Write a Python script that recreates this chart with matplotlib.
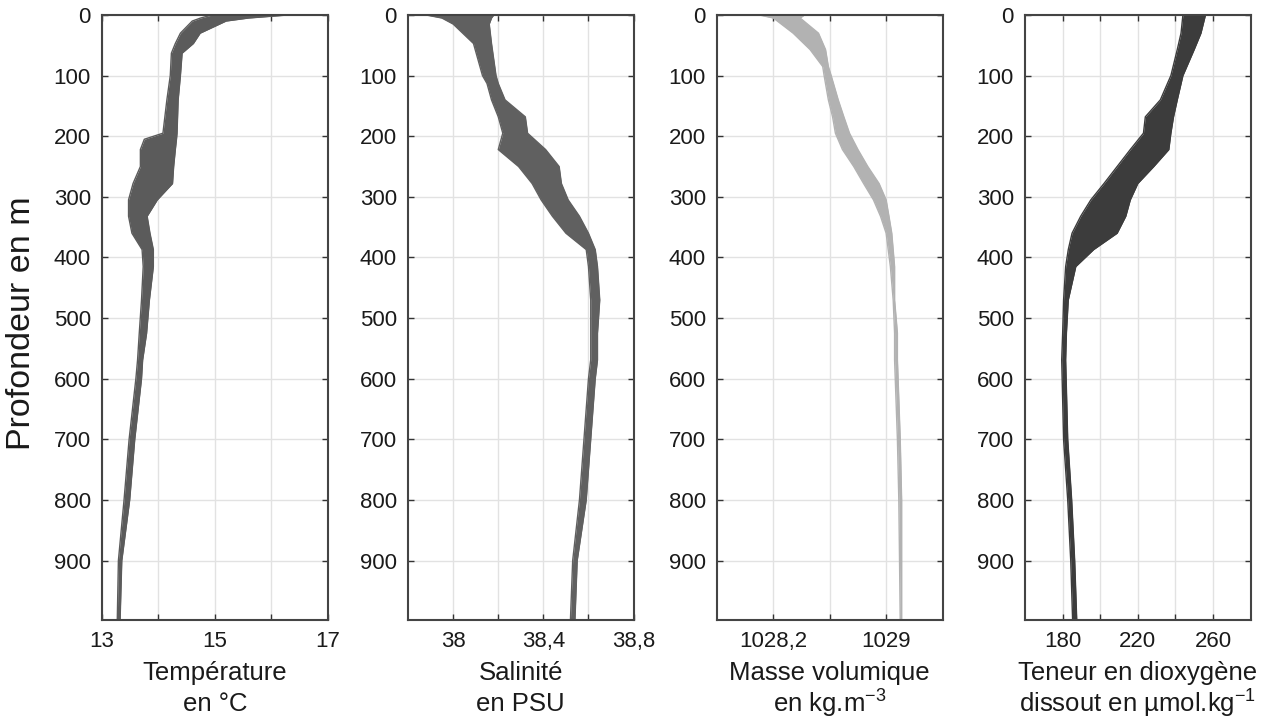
import numpy as np
import matplotlib
matplotlib.use("Agg")
import matplotlib.pyplot as plt

plt.rcParams["font.family"] = ["Liberation Sans", "DejaVu Sans"]
plt.rcParams["mathtext.default"] = "regular"

# --- Profiles: depth (m) with left / right edge of the cloud of points ---
temp_depth = [0, 5, 10, 30, 47, 63, 100, 140, 195, 205, 222, 250, 278, 305, 332, 360, 387, 415, 470, 525, 569, 600, 700, 800, 900, 998]
temp_left = [14.95, 14.75, 14.6, 14.39, 14.30, 14.23, 14.21, 14.15, 14.08, 13.75, 13.68, 13.68, 13.55, 13.47, 13.47, 13.53, 13.71, 13.73, 13.70, 13.66, 13.63, 13.60, 13.48, 13.39, 13.29, 13.27]
temp_right = [16.3, 15.6, 15.2, 14.74, 14.62, 14.42, 14.39, 14.35, 14.33, 14.32, 14.30, 14.27, 14.25, 13.98, 13.80, 13.85, 13.91, 13.91, 13.84, 13.79, 13.72, 13.70, 13.58, 13.49, 13.35, 13.32]

sal_depth = [0, 5, 15, 47, 100, 113, 140, 168, 195, 222, 250, 278, 305, 332, 360, 387, 415, 470, 525, 569, 600, 700, 800, 900, 998]
sal_left = [37.88, 37.95, 38.0, 38.09, 38.13, 38.15, 38.17, 38.2, 38.22, 38.2, 38.29, 38.35, 38.39, 38.44, 38.5, 38.59, 38.6, 38.61, 38.61, 38.61, 38.6, 38.58, 38.56, 38.53, 38.52]
sal_right = [38.18, 38.17, 38.16, 38.17, 38.19, 38.2, 38.23, 38.32, 38.33, 38.41, 38.47, 38.48, 38.51, 38.56, 38.6, 38.63, 38.64, 38.65, 38.64, 38.64, 38.63, 38.61, 38.59, 38.55, 38.54]

dens_depth = [0, 5, 30, 57, 85, 100, 140, 168, 195, 222, 250, 278, 305, 332, 360, 415, 470, 525, 569, 700, 800, 998]
dens_left = [1028.1, 1028.2, 1028.34, 1028.46, 1028.55, 1028.56, 1028.59, 1028.62, 1028.64, 1028.69, 1028.77, 1028.84, 1028.91, 1028.96, 1029.0, 1029.03, 1029.05, 1029.06, 1029.06, 1029.08, 1029.09, 1029.10]
dens_right = [1028.42, 1028.39, 1028.52, 1028.57, 1028.59, 1028.61, 1028.66, 1028.7, 1028.74, 1028.8, 1028.87, 1028.95, 1029.0, 1029.02, 1029.04, 1029.06, 1029.06, 1029.08, 1029.08, 1029.1, 1029.11, 1029.11]

oxy_depth = [0, 30, 57, 100, 140, 168, 195, 222, 250, 278, 305, 332, 360, 387, 415, 470, 525, 569, 700, 800, 900, 998]
oxy_left = [244, 243, 241, 237.6, 232, 224, 223, 216, 209, 202, 195, 189.6, 185, 183, 181.6, 180.5, 180, 179.5, 180.5, 182.7, 184.3, 185.3]
oxy_right = [256, 253.6, 250, 244, 241, 239, 237.6, 236.5, 228.5, 220, 216, 213.6, 209, 196.5, 187, 183, 182, 181.6, 182.7, 184.8, 186.4, 187.5]

# --- Axes settings ---
depth_ticks = [0, 100, 200, 300, 400, 500, 600, 700, 800, 900]
panels = [
    dict(depth=temp_depth, left=temp_left, right=temp_right, color="#5b5b5b",
         xlim=(13, 17), ticks=[13, 14, 15, 16, 17], labels=["13", "", "15", "", "17"],
         xlabel=["Température", "en °C"]),
    dict(depth=sal_depth, left=sal_left, right=sal_right, color="#606060",
         xlim=(37.8, 38.8), ticks=[38.0, 38.2, 38.4, 38.6, 38.8], labels=["38", "", "38,4", "", "38,8"],
         xlabel=["Salinité", "en PSU"]),
    dict(depth=dens_depth, left=dens_left, right=dens_right, color="#b2b2b2",
         xlim=(1027.8, 1029.4), ticks=[1028.2, 1028.6, 1029.0], labels=["1028,2", "", "1029"],
         xlabel=["Masse volumique", "en kg.m$^{-3}$"]),
    dict(depth=oxy_depth, left=oxy_left, right=oxy_right, color="#3c3c3c",
         xlim=(160, 280), ticks=[180, 200, 220, 240, 260], labels=["180", "", "220", "", "260"],
         xlabel=["Teneur en dioxygène", "dissout en µmol.kg$^{-1}$"]),
]

W, H = 1274, 720
fig = plt.figure(figsize=(W / 100, H / 100), dpi=100)
lefts = [0.0801, 0.3203, 0.5628, 0.8046]
width = 0.1770
for x0, p in zip(lefts, panels):
    ax = fig.add_axes([x0, 0.1389, width, 0.8403])
    ax.fill_betweenx(p["depth"], p["left"], p["right"], color=p["color"], lw=0)
    ax.plot(p["left"], p["depth"], color=p["color"], lw=1)
    ax.plot(p["right"], p["depth"], color=p["color"], lw=1)
    ax.set_xlim(*p["xlim"])
    ax.set_ylim(998, 0)
    ax.set_xticks(p["ticks"])
    ax.set_xticklabels(p["labels"])
    ax.set_yticks(depth_ticks)
    ax.grid(True, color="#e2e2e2", lw=1)
    ax.set_axisbelow(True)
    ax.tick_params(direction="in", top=True, right=True, length=4, width=1,
                   color="#333333", labelsize=16, labelcolor="#1a1a1a", pad=8)
    for s in ax.spines.values():
        s.set_color("#444444")
        s.set_linewidth(1.5)
    # two-line axis caption under each panel
    xc = x0 + width / 2
    fig.text(xc, 1 - 673 / H, p["xlabel"][0], fontsize=18.5, color="#1a1a1a",
             ha="center", va="center")
    fig.text(xc, 1 - 704 / H, p["xlabel"][1], fontsize=18.5, color="#1a1a1a",
             ha="center", va="center")

fig.text(0.0165, 0.551, "Profondeur en m", rotation=90, fontsize=24.5,
         color="#1a1a1a", ha="center", va="center")

fig.savefig("out.png", dpi=100)
